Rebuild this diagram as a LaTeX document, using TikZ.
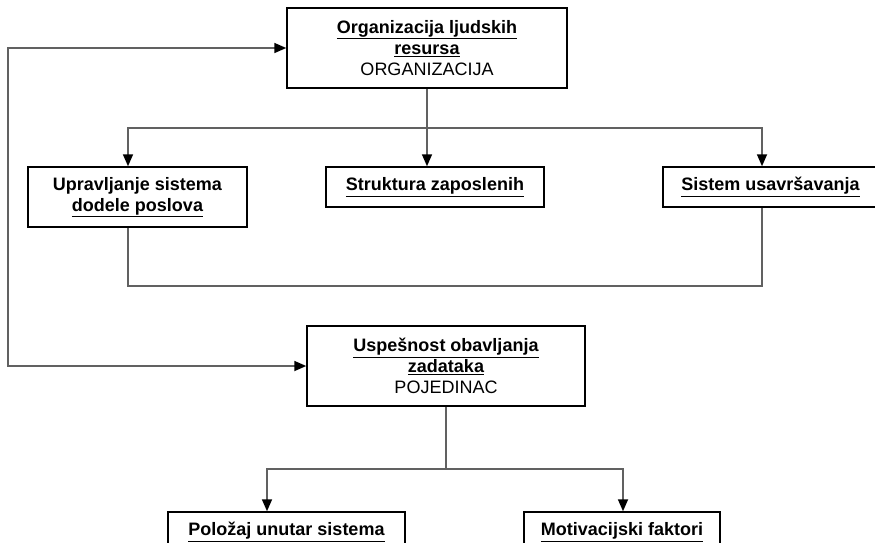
\documentclass[tikz,border=0pt]{standalone}
\usepackage{fontspec}
\setmainfont{Liberation Sans}
\usetikzlibrary{arrows.meta}

\begin{document}
\begin{tikzpicture}[x=1pt,y=-1pt,
  box/.style={draw=black, line width=1.5pt, fill=white, align=center,
    inner sep=0pt, font=\fontsize{18}{21}\selectfont},
  conn/.style={draw=black!62, line width=1.7pt},
  tip/.style={Triangle[length=12pt,width=10pt,color=black]},
  arr/.style={conn, -{Triangle[length=12pt,width=10pt,color=black]}},
  arrboth/.style={conn, {Triangle[length=12pt,width=10pt,color=black]}-{Triangle[length=12pt,width=10pt,color=black]}},
]
\useasboundingbox (0,0) rectangle (875,542);

% boxes
\node[box, minimum width=280pt, minimum height=80pt] (org) at (427,48)
  {\textbf{\underline{Organizacija ljudskih}}\\\textbf{\underline{resursa}}\\ORGANIZACIJA};
\node[box, minimum width=219pt, minimum height=60pt] (upr) at (137.5,197)
  {\textbf{Upravljanje sistema}\\\textbf{\underline{dodele poslova}}};
\node[box, minimum width=218pt, minimum height=40pt] (str) at (435,187)
  {\textbf{\underline{Struktura zaposlenih}}};
\node[box, minimum width=215pt, minimum height=40pt] (sis) at (770.5,187)
  {\textbf{\underline{Sistem usavršavanja}}};
\node[box, minimum width=278pt, minimum height=80pt] (usp) at (446,366)
  {\textbf{\underline{Uspešnost obavljanja}}\\\textbf{\underline{zadataka}}\\POJEDINAC};
\node[box, minimum width=237pt, minimum height=40pt] (pol) at (286.5,532)
  {\textbf{\underline{Položaj unutar sistema}}};
\node[box, minimum width=196pt, minimum height=40pt] (mot) at (622,532)
  {\textbf{\underline{Motivacijski faktori}}};

% junction points of the connector buses
\coordinate (j1) at (427,128);
\coordinate (busL) at (128,128);
\coordinate (busR) at (762,128);
\coordinate (retL) at (128,286);
\coordinate (retR) at (762,286);
\coordinate (fbT) at (8,48);
\coordinate (fbB) at (8,366);
\coordinate (j2) at (446,469);
\coordinate (brL) at (267,469);
\coordinate (brR) at (623,469);

% organisation level
\draw[conn] (org.south) -- (j1);
\draw[arr] (j1) -- (busL) -- (busL |- upr.north);
\draw[arr] (j1) -- (j1 |- str.north);
\draw[arr] (j1) -- (busR) -- (busR |- sis.north);
\draw[conn] (busL |- upr.south) -- (retL) -- (retR) -- (busR |- sis.south);

% feedback loop between the two levels
\draw[arrboth] (org.west) -- (fbT) -- (fbB) -- (usp.west);

% individual level
\draw[conn] (usp.south) -- (j2);
\draw[arr] (j2) -- (brL) -- (brL |- pol.north);
\draw[arr] (j2) -- (brR) -- (brR |- mot.north);
\end{tikzpicture}
\end{document}
